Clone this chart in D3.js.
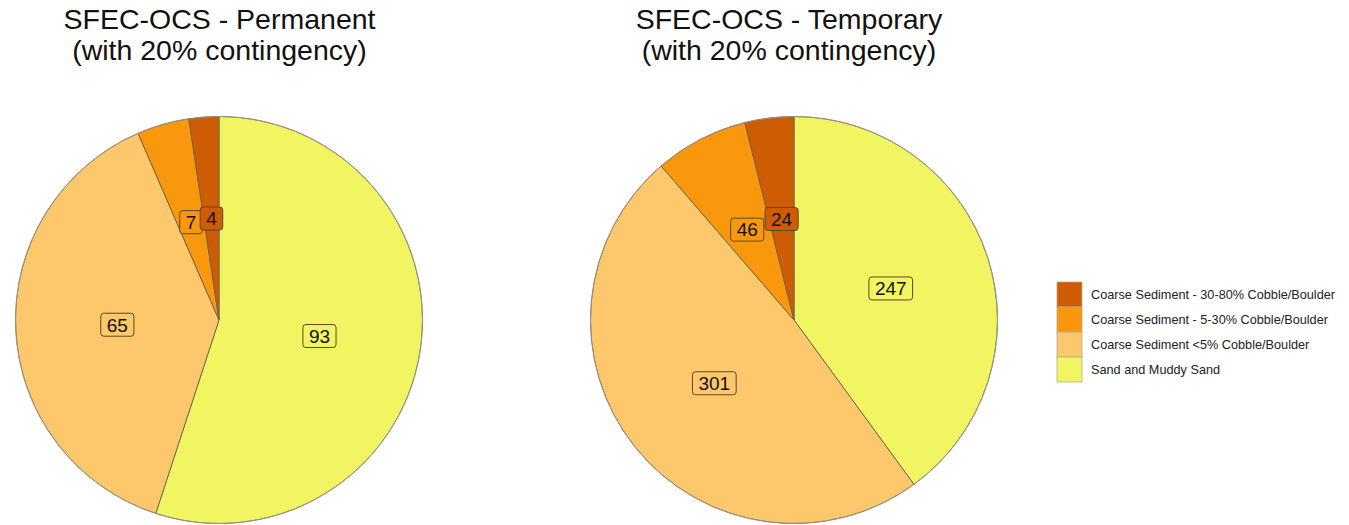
<!DOCTYPE html>
<html>
<head>
<meta charset="utf-8">
<script src="https://cdn.jsdelivr.net/npm/d3@7"></script>
<style>
  html, body { margin: 0; padding: 0; background: #fff; }
  svg { display: block; font-family: "Liberation Sans", Arial, sans-serif; }
</style>
</head>
<body>
<svg id="chart" width="1349" height="525"></svg>
<script>
// Sediment categories (clockwise from 12 o'clock)
const categories = [
  "Sand and Muddy Sand",
  "Coarse Sediment <5% Cobble/Boulder",
  "Coarse Sediment - 5-30% Cobble/Boulder",
  "Coarse Sediment - 30-80% Cobble/Boulder"
];
const colours = ["#f1f562", "#fdc76b", "#f9980c", "#cd5c05"];

const permanentValues = [93, 65, 7, 4];
const temporaryValues = [247, 301, 46, 24];

const panelTitles = [
  ["SFEC-OCS - Permanent", "(with 20% contingency)"],
  ["SFEC-OCS - Temporary", "(with 20% contingency)"]
];

// Legend listed from darkest to lightest
const legendOrder = [3, 2, 1, 0];

const svg = d3.select("#chart");
const colour = d3.scaleOrdinal().domain(categories).range(colours);

const R = 203.5;
const panels = [
  { cx: 219, cy: 320, titleX: 219.5, values: permanentValues, title: panelTitles[0] },
  { cx: 794, cy: 320, titleX: 789, values: temporaryValues, title: panelTitles[1] }
];

const pie = d3.pie().sort(null).value(d => d.value);
const arc = d3.arc().innerRadius(0).outerRadius(R);
const labelArc = d3.arc().innerRadius(R * 0.5).outerRadius(R * 0.5);

panels.forEach(p => {
  const data = categories.map((c, i) => ({ cat: c, value: p.values[i] }));
  const arcs = pie(data);
  const g = svg.append("g").attr("transform", `translate(${p.cx},${p.cy})`);

  g.selectAll("path.slice")
    .data(arcs)
    .join("path")
    .attr("class", "slice")
    .attr("d", arc)
    .attr("fill", d => colour(d.data.cat))
    .attr("stroke", "#6e6148")
    .attr("stroke-width", 0.9);

  // outer rim
  g.append("circle").attr("r", R).attr("fill", "none")
    .attr("stroke", "#a09a88").attr("stroke-width", 0.8);

  // value labels in rounded boxes
  const lab = g.selectAll("g.lab")
    .data(arcs)
    .join("g")
    .attr("class", "lab")
    .attr("transform", d => `translate(${labelArc.centroid(d)})`);

  lab.each(function(d) {
    const s = d3.select(this);
    const txt = String(d.data.value);
    const t = s.append("text")
      .attr("text-anchor", "middle")
      .attr("dy", "0.36em")
      .attr("font-size", 19)
      .attr("fill", "#111")
      .text(txt);
    const w = t.node().getComputedTextLength() + 12;
    const h = 23;
    s.insert("rect", "text")
      .attr("x", -w / 2).attr("y", -h / 2)
      .attr("width", w).attr("height", h)
      .attr("rx", 3).attr("ry", 3)
      .attr("fill", colour(d.data.cat))
      .attr("stroke", "#5a4a26")
      .attr("stroke-width", 1);
  });

  // panel title
  svg.append("text")
    .attr("x", p.titleX).attr("y", 0)
    .attr("text-anchor", "middle")
    .attr("font-size", 28.5)
    .attr("fill", "#111")
    .selectAll("tspan")
    .data(p.title)
    .join("tspan")
    .attr("x", p.titleX)
    .attr("y", (d, i) => 29 + i * 31)
    .text(d => d);
});

// legend
const lg = svg.append("g").attr("transform", "translate(1057,282)");
const item = lg.selectAll("g.item")
  .data(legendOrder.map(i => categories[i]))
  .join("g")
  .attr("class", "item")
  .attr("transform", (d, i) => `translate(0,${i * 25})`);

item.append("rect")
  .attr("width", 25).attr("height", 25)
  .attr("fill", d => colour(d))
  .attr("stroke", "#b8a88a")
  .attr("stroke-width", 0.8);

item.append("text")
  .attr("x", 34).attr("y", 12.5)
  .attr("dy", "0.35em")
  .attr("font-size", 12.7)
  .attr("fill", "#222")
  .text(d => d);
</script>
</body>
</html>
